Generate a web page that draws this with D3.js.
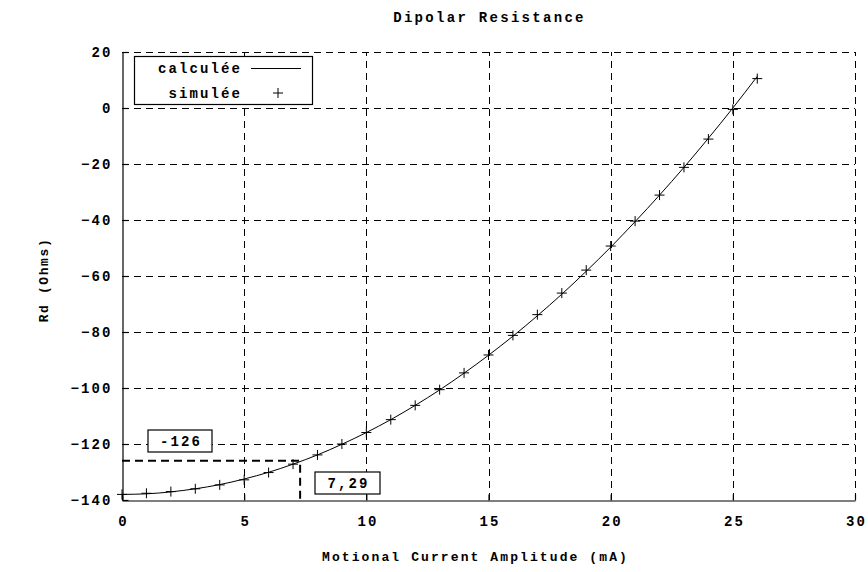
<!DOCTYPE html>
<html>
<head>
<meta charset="utf-8">
<script src="https://cdn.jsdelivr.net/npm/d3@7"></script>
<style>
body { margin: 0; background: #fff; }
svg { display: block; }
text { font-family: "Liberation Mono", "DejaVu Sans Mono", monospace; font-weight: bold; fill: #000; }
</style>
</head>
<body>
<svg id="chart"></svg>
<script>
// values
var current = [0, 1, 2, 3, 4, 5, 6, 7, 8, 9, 10, 11, 12, 13, 14, 15, 16, 17, 18, 19, 20, 21, 22, 23, 24, 25, 26]
var simulated = [-138, -137.6, -137, -136, -134.6, -132.8, -130.2, -127.2, -123.9, -120, -115.9, -111.3, -106.2, -100.6, -94.6, -88.2, -81.2, -73.8, -66.1, -57.9, -49.3, -40.4, -31.1, -21.2, -11.1, -0.5, 10.5]
var calcX = [0, 1, 2, 3, 4, 5, 6, 7, 8, 9, 10, 11, 12, 13, 14, 15, 16, 17, 18, 19, 20, 21, 22, 23, 24, 25, 26]
var calcY = [-138, -137.8, -137.1, -136, -134.5, -132.5, -130.1, -127.2, -123.9, -120.1, -115.9, -111.3, -106.2, -100.7, -94.7, -88.3, -81.5, -74.2, -66.5, -58.3, -49.7, -40.6, -31.1, -21.2, -10.8, 0, 11.3]
var xTicks = [0, 5, 10, 15, 20, 25, 30]
var yTicks = [-140, -120, -100, -80, -60, -40, -20, 0, 20]
var markX = 7.29
var markY = -126

var width = 868
var height = 572
var m = {left: 122, right: 13, top: 52, bottom: 72}
var ls = 2.1 // wide courier-like spacing

var svg = d3.select("#chart").attr("width", width).attr("height", height)

var x = d3.scaleLinear().domain([0, 30]).range([m.left, width - m.right])
var y = d3.scaleLinear().domain([-140, 20]).range([height - m.bottom, m.top])

// grid
var grid = svg.append("g").attr("stroke", "#000").attr("stroke-width", 1).attr("stroke-dasharray", "7,5")
grid.selectAll(".gx").data(xTicks.slice(1)).join("line")
    .attr("x1", d => Math.round(x(d)) + 0.5).attr("x2", d => Math.round(x(d)) + 0.5)
    .attr("y1", y(-140)).attr("y2", y(20))
grid.selectAll(".gy").data(yTicks.slice(1)).join("line")
    .attr("y1", d => Math.round(y(d)) + 0.5).attr("y2", d => Math.round(y(d)) + 0.5)
    .attr("x1", x(0)).attr("x2", x(30))

// axes
var xAxis = d3.axisBottom(x).tickValues(xTicks).tickSizeInner(-6).tickSizeOuter(0).tickPadding(16)
var yAxis = d3.axisLeft(y).tickValues(yTicks).tickSizeInner(-6).tickSizeOuter(0).tickPadding(10)
var gx = svg.append("g").attr("transform", `translate(0,${Math.round(y(-140)) + 0.5})`).call(xAxis)
var gy = svg.append("g").attr("transform", `translate(${Math.round(x(0)) + 0.5},0)`).call(yAxis)
;[gx, gy].forEach(g => {
    g.selectAll("path, line").attr("stroke", "#000").attr("stroke-width", 1.2)
    g.selectAll("text").attr("font-size", 14).attr("font-family", "Liberation Mono")
        .attr("font-weight", "bold").attr("letter-spacing", ls)
})
gx.selectAll("text").attr("dx", ls / 2)

// calculated curve
var line = d3.line().x(d => x(d[0])).y(d => y(d[1])).curve(d3.curveMonotoneX)
svg.append("path")
    .datum(calcX.map((v, i) => [v, calcY[i]]))
    .attr("fill", "none").attr("stroke", "#000").attr("stroke-width", 1)
    .attr("d", line)

// simulated points
svg.append("g").selectAll("path").data(current.map((v, i) => [v, simulated[i]])).join("path")
    .attr("transform", d => `translate(${x(d[0])},${y(d[1])})`)
    .attr("d", "M-5,0H5M0,-5V5")
    .attr("stroke", "#000").attr("stroke-width", 1).attr("fill", "none")

// marker lines
svg.append("path")
    .attr("d", `M${x(0)},${y(markY)}H${x(markX)}V${y(-140)}`)
    .attr("fill", "none").attr("stroke", "#000").attr("stroke-width", 2).attr("stroke-dasharray", "8,5")

function labelBox(cx, cy, w, h, txt) {
    svg.append("rect").attr("x", cx - w / 2).attr("y", cy - h / 2).attr("width", w).attr("height", h)
        .attr("fill", "#fff").attr("stroke", "#000").attr("stroke-width", 1.2)
    svg.append("text").attr("x", cx + ls / 2).attr("y", cy).attr("dy", "0.35em")
        .attr("text-anchor", "middle").attr("font-size", 14).attr("letter-spacing", ls).text(txt)
}
labelBox(180, 441, 64, 22, String(markY))
labelBox(347.5, 483, 65, 22, String(markX).replace(".", ","))

// legend
var lg = svg.append("g")
lg.append("rect").attr("x", 134.5).attr("y", 56.5).attr("width", 178).attr("height", 48)
    .attr("fill", "#fff").attr("stroke", "#000").attr("stroke-width", 1.2)
lg.append("text").attr("x", 240 + ls).attr("y", 68).attr("dy", "0.35em").attr("text-anchor", "end")
    .attr("font-size", 14).attr("letter-spacing", ls).text("calculée")
lg.append("line").attr("x1", 251).attr("x2", 301).attr("y1", 68.5).attr("y2", 68.5)
    .attr("stroke", "#000").attr("stroke-width", 1)
lg.append("text").attr("x", 240 + ls).attr("y", 93).attr("dy", "0.35em").attr("text-anchor", "end")
    .attr("font-size", 14).attr("letter-spacing", ls).text("simulée")
lg.append("path").attr("transform", "translate(278,93)").attr("d", "M-5,0H5M0,-5V5")
    .attr("stroke", "#000").attr("stroke-width", 1)

// titles
svg.append("text").attr("x", (x(0) + x(30)) / 2 + 1).attr("y", 22).attr("text-anchor", "middle")
    .attr("font-size", 14).attr("letter-spacing", 2.3).text("Dipolar Resistance")
svg.append("text").attr("x", (x(0) + x(30)) / 2 - 13).attr("y", 561).attr("text-anchor", "middle")
    .attr("font-size", 13).attr("letter-spacing", 2.1).text("Motional Current Amplitude (mA)")
svg.append("text").attr("transform", `translate(43,${(y(-140) + y(20)) / 2 + 4}) rotate(-90)`)
    .attr("text-anchor", "middle").attr("dy", "0.35em")
    .attr("font-size", 13).attr("letter-spacing", 1.6).text("Rd (Ohms)")
</script>
</body>
</html>
